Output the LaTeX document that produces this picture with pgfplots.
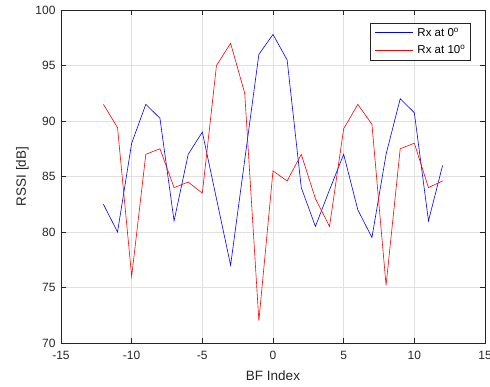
\documentclass[border=0pt]{standalone}
\usepackage{pgfplots}
\pgfplotsset{compat=1.18}
\usepackage{fontspec}
\setmainfont{Liberation Sans}
\definecolor{axc}{gray}{0.15}
\definecolor{gridc}{gray}{0.88}
\newcommand{\legline}[1]{\textcolor{#1}{\rule[3.6pt]{38pt}{0.65pt}}\hspace{4.5pt}}
\begin{document}
\begin{tikzpicture}
\begin{axis}[
 name=ax,
 scale only axis, width=424pt, height=333pt,
 xmin=-15,xmax=15,ymin=70,ymax=100,
 xtick={-15,-10,...,15}, ytick={70,75,...,100},
 grid=major, major grid style={draw=gridc, line width=0.6pt},
 axis line style={draw=axc, line width=0.6pt},
 tick style={draw=axc, line width=0.6pt},
 major tick length=5pt,
 tick align=inside,
 xlabel={BF Index}, ylabel={RSSI [dB]},
 ticklabel style={font=\fontsize{12}{14}\selectfont, text=axc},
 xticklabel style={yshift=-5pt},
 yticklabel style={xshift=-2pt},
 label style={font=\fontsize{13.5}{16}\selectfont, text=axc},
 xlabel style={yshift=-4pt},
 /pgf/number format/assume math mode=true,
 legend style={at={(0.966,0.962)},anchor=north east, fill=white, draw=axc, line width=0.6pt,
   font=\fontsize{11.5}{13}\selectfont, inner xsep=3pt, inner ysep=3pt, row sep=3pt,
   /tikz/every even column/.append style={column sep=0pt}},
 legend cell align=left,
 legend image code/.code={},
]
\addplot[blue, line width=0.6pt] coordinates {
(-12,82.5) (-11,80.0) (-10,88.0) (-9,91.5) (-8,90.25) (-7,81.0) (-6,87.0) (-5,89.0)
(-4,83.0) (-3,77.0) (-2,86.5) (-1,96.0) (0,97.8) (1,95.5) (2,84.0) (3,80.5)
(4,83.8) (5,87.0) (6,82.0) (7,79.5) (8,87.0) (9,92.0) (10,90.75) (11,81.0) (12,86.0)};
\addlegendentry{\legline{blue}Rx at 0\textsuperscript{o}}
\addplot[red, line width=0.6pt] coordinates {
(-12,91.5) (-11,89.4) (-10,76.0) (-9,87.0) (-8,87.5) (-7,84.0) (-6,84.5) (-5,83.5)
(-4,95.0) (-3,97.0) (-2,92.5) (-1,72.0) (0,85.5) (1,84.6) (2,87.0) (3,83.0)
(4,80.5) (5,89.3) (6,91.5) (7,89.7) (8,75.2) (9,87.5) (10,88.0) (11,84.0) (12,84.6)};
\addlegendentry{\legline{red}Rx at 10\textsuperscript{o}}
\end{axis}
\pgfresetboundingbox
\path ([xshift=-61pt,yshift=-44pt]ax.south west) rectangle ([xshift=5pt,yshift=10pt]ax.north east);
\end{tikzpicture}
\end{document}
